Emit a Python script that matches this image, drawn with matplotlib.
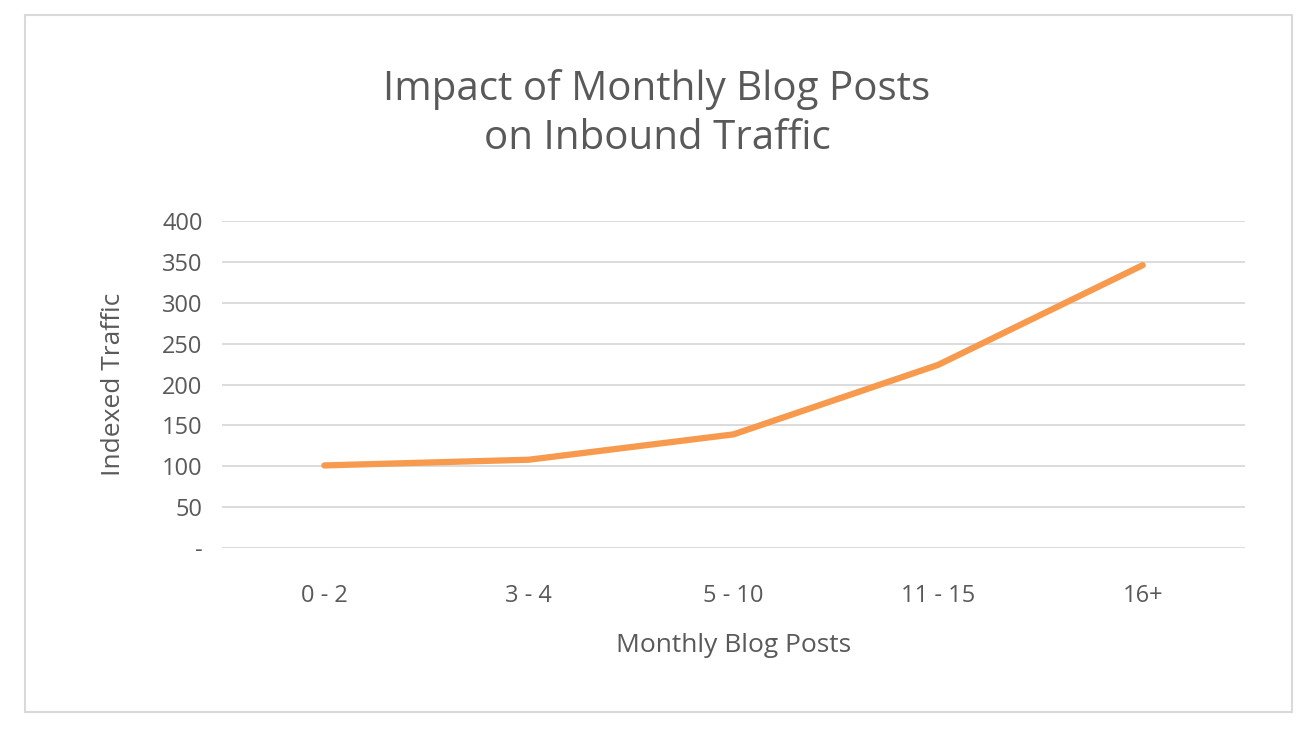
import matplotlib
matplotlib.use("Agg")
import matplotlib.pyplot as plt
from matplotlib.patches import Rectangle

categories = ["0 - 2", "3 - 4", "5 - 10", "11 - 15", "16+"]
traffic = [101, 108, 139, 224, 346]
yticks = [0, 50, 100, 150, 200, 250, 300, 350, 400]
ylabels = ["-", "50", "100", "150", "200", "250", "300", "350", "400"]

plt.rcParams['font.family'] = ['Open Sans', 'DejaVu Sans']
fig = plt.figure(figsize=(13, 7.31), dpi=100)
fig.patches.append(Rectangle((25/1300, 1-712/731), 1267/1300, 697/731,
                             transform=fig.transFigure, fill=False,
                             edgecolor="#d9d9d9", linewidth=1.5))
ax = fig.add_axes([222/1300, 1-548/731, 1023/1300, 327/731])
x = list(range(len(categories)))
ax.plot(x, traffic, color="#F79A4E", linewidth=4.5, solid_capstyle="round")
ax.set_xlim(-0.5, len(categories) - 0.5)
ax.set_ylim(0, 400)
ax.set_yticks(yticks)
ax.set_yticklabels(ylabels)
ax.set_xticks(x)
ax.set_xticklabels(categories)
ax.grid(axis="y", color="#d9d9d9", linewidth=1.3)
ax.set_axisbelow(True)
for s in ax.spines.values():
    s.set_visible(False)
ax.tick_params(length=0, labelsize=17, colors="#595959")
ax.tick_params(axis="x", pad=26)
ax.tick_params(axis="y", pad=14)
ax.set_xlabel("Monthly Blog Posts", fontsize=19, color="#595959", labelpad=18)
ax.set_ylabel("Indexed Traffic", fontsize=19, color="#595959", labelpad=26)
fig.text(657/1300, 1-114/731, "Impact of Monthly Blog Posts\non Inbound Traffic",
         ha="center", va="center", fontsize=29, color="#595959", linespacing=1.25)
fig.savefig("out.png", dpi=100, facecolor="white")
